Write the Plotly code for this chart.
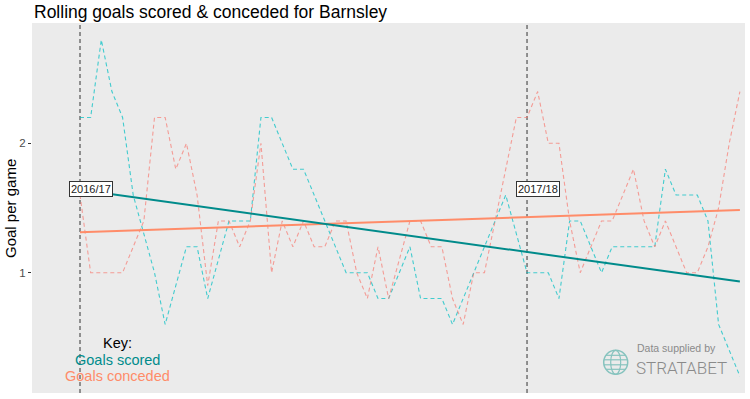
import numpy as np
import plotly.graph_objects as go

# ---------------- data ----------------
game_index = list(range(63))
goals_scored = [2.2, 2.2, 2.8, 2.4, 2.2, 1.6, 1.3, 1.0, 0.6, 0.9,
                1.2, 1.2, 0.8, 1.1, 1.4, 1.4, 1.4, 2.2, 2.2, 2.0,
                1.8, 1.8, 1.6, 1.4, 1.2, 1.0, 1.0, 1.0, 0.8, 0.8,
                1.0, 1.2, 0.8, 0.8, 0.8, 0.6, 0.8, 1.0, 1.2, 1.4,
                1.6, 1.3, 1.0, 1.0, 1.0, 0.8, 1.4, 1.4, 1.2, 1.0,
                1.2, 1.2, 1.2, 1.2, 1.2, 1.8, 1.6, 1.6, 1.6, 1.4,
                0.6, 0.4, 0.2]
goals_conceded = [1.6, 1.0, 1.0, 1.0, 1.0, 1.2, 1.4, 2.2, 2.2, 1.8,
                  2.0, 1.6, 0.9, 1.4, 1.4, 1.2, 1.4, 2.0, 1.0, 1.4,
                  1.2, 1.4, 1.2, 1.2, 1.4, 1.4, 1.0, 0.8, 1.2, 0.8,
                  1.1, 1.4, 1.4, 1.2, 1.2, 0.8, 0.6, 1.0, 1.0, 1.4,
                  1.8, 2.2, 2.2, 2.4, 2.0, 2.0, 1.4, 1.0, 1.2, 1.4,
                  1.4, 1.6, 1.8, 1.4, 1.2, 1.4, 1.2, 1.0, 1.0, 1.2,
                  1.5, 2.0, 2.4]
season_starts = [0, 42]
season_labels = ["2016/17", "2017/18"]
season_label_x = [1, 43]
season_label_y = 1.645
y_ticks = [1, 2]
key_x = 3.52
key_y = [0.454, 0.325, 0.2]
key_texts = ["Key:", "Goals scored", "Goals conceded"]

# ---------------- styling ----------------
W, H = 750, 399
L, R, T, B = 32, 5, 23, 6
FONT = "Liberation Sans"
TEAL_DASH = "rgba(0,191,196,0.72)"
ORANGE_DASH = "rgba(248,118,109,0.68)"
TEAL = "#008B8B"
SALMON = "#FF8C69"


def px_x(px):
    return (px - L) / (W - L - R)


def px_y(py):
    return (H - B - py) / (H - T - B)


x = np.array(game_index, dtype=float)
fit_s = np.polyfit(x, np.array(goals_scored), 1)
fit_c = np.polyfit(x, np.array(goals_conceded), 1)
x_tr = np.array([x.min(), x.max()])

fig = go.Figure()
fig.add_trace(go.Scatter(x=game_index, y=goals_scored, mode="lines",
                         line=dict(color=TEAL_DASH, width=1.1, dash="4px,3px"),
                         hoverinfo="skip", showlegend=False))
fig.add_trace(go.Scatter(x=game_index, y=goals_conceded, mode="lines",
                         line=dict(color=ORANGE_DASH, width=1.1, dash="4px,3px"),
                         hoverinfo="skip", showlegend=False))
fig.add_trace(go.Scatter(x=x_tr, y=np.polyval(fit_c, x_tr), mode="lines",
                         line=dict(color=SALMON, width=2), hoverinfo="skip",
                         showlegend=False))
fig.add_trace(go.Scatter(x=x_tr, y=np.polyval(fit_s, x_tr), mode="lines",
                         line=dict(color=TEAL, width=2), hoverinfo="skip",
                         showlegend=False))

shapes = []
for s in season_starts:
    shapes.append(dict(type="line", xref="x", yref="paper", x0=s, x1=s,
                       y0=0, y1=1, layer="below",
                       line=dict(color="#333333", width=1, dash="4px,3px")))

# Stratabet globe logo
gcx, gcy, gr = 615.7, 362.3, 12
GCOL = "#86C3BE"
shapes.append(dict(type="circle", xref="paper", yref="paper",
                   x0=px_x(gcx - gr), x1=px_x(gcx + gr),
                   y0=px_y(gcy + gr), y1=px_y(gcy - gr),
                   line=dict(color=GCOL, width=1.5)))
shapes.append(dict(type="circle", xref="paper", yref="paper",
                   x0=px_x(gcx - 5), x1=px_x(gcx + 5),
                   y0=px_y(gcy + gr), y1=px_y(gcy - gr),
                   line=dict(color=GCOL, width=1.2)))
for dy in [-7, -2.5, 2.5, 7]:
    half = (gr ** 2 - dy ** 2) ** 0.5
    shapes.append(dict(type="line", xref="paper", yref="paper",
                       x0=px_x(gcx - half), x1=px_x(gcx + half),
                       y0=px_y(gcy + dy), y1=px_y(gcy + dy),
                       line=dict(color=GCOL, width=1.2)))

annotations = []
for lx, lab in zip(season_label_x, season_labels):
    annotations.append(dict(x=lx, y=season_label_y, xref="x", yref="y",
                            text=lab, showarrow=False,
                            font=dict(family=FONT, size=11, color="#1a1a1a"),
                            bgcolor="white", bordercolor="#333333",
                            borderwidth=1, borderpad=1))
key_colors = ["black", TEAL, SALMON]
for ky, kt, kc in zip(key_y, key_texts, key_colors):
    annotations.append(dict(x=key_x, y=ky, xref="x", yref="y", text=kt,
                            showarrow=False,
                            font=dict(family=FONT, size=14.5, color=kc)))
annotations.append(dict(x=px_x(32), y=px_y(12), xref="paper", yref="paper",
                        xanchor="left", yanchor="middle", showarrow=False,
                        text="Rolling goals scored & conceded for Barnsley",
                        font=dict(family=FONT, size=17.5, color="black")))
annotations.append(dict(x=px_x(10), y=px_y(209), xref="paper", yref="paper",
                        xanchor="center", yanchor="middle", showarrow=False,
                        textangle=-90, text="Goal per game",
                        font=dict(family=FONT, size=15, color="black")))
annotations.append(dict(x=px_x(635), y=px_y(355.5), xref="paper", yref="paper",
                        xanchor="left", yanchor="bottom", showarrow=False,
                        text="Data supplied by",
                        font=dict(family=FONT, size=10.5, color="#8a8a8a")))
annotations.append(dict(x=px_x(634), y=px_y(355.5), xref="paper", yref="paper",
                        xanchor="left", yanchor="top", showarrow=False,
                        text="STRATABET",
                        font=dict(family="Roboto", size=17, color="#8a8a8a",
                                  weight=300)))

fig.update_layout(
    width=W, height=H,
    margin=dict(l=L, r=R, t=T, b=B),
    paper_bgcolor="white", plot_bgcolor="#EBEBEB",
    showlegend=False,
    xaxis=dict(range=[-4.51, 62.48], showgrid=False, zeroline=False,
               showticklabels=False, ticks="", showline=False, fixedrange=True),
    yaxis=dict(range=[0.07, 2.93], showgrid=False, zeroline=False,
               tickvals=y_ticks, ticktext=[str(v) for v in y_ticks],
               ticks="outside", ticklen=3, tickcolor="#333333", tickwidth=1,
               tickfont=dict(family=FONT, size=11.5, color="#4D4D4D"),
               showline=False, fixedrange=True),
    shapes=shapes,
    annotations=annotations,
)

fig.write_html("out.html", config={"displayModeBar": False},
               post_script="document.body.style.margin='0';"
                           "document.body.style.overflow='hidden';")
